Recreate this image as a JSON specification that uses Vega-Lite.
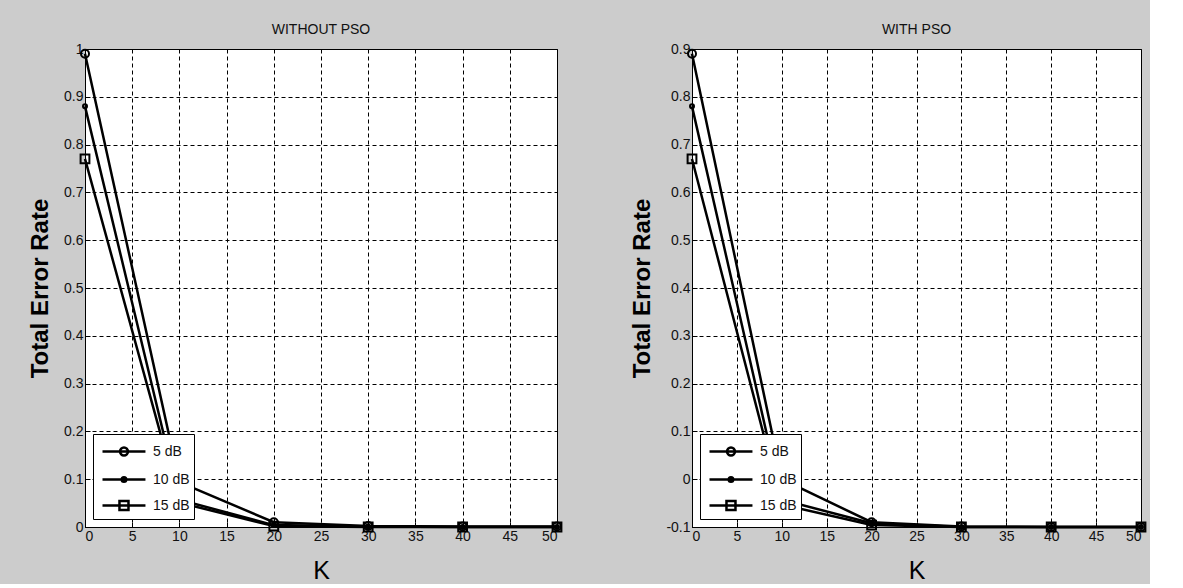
{
  "$schema": "https://vega.github.io/schema/vega-lite/v6.json",
  "background": "#cccccc",
  "padding": {"left": 28, "top": 22, "right": 0, "bottom": 0},
  "spacing": 135,
  "bounds": "flush",
  "config": {
    "view": {"fill": "white", "stroke": "black", "strokeWidth": 1},
    "axis": {
      "labelFont": "Liberation Sans, Arial",
      "labelFontSize": 14,
      "labelColor": "#111111",
      "titleFont": "Liberation Sans, Arial",
      "titleColor": "#000000",
      "domainColor": "#000000",
      "tickColor": "#000000",
      "tickSize": -5,
      "labelPadding": 7,
      "grid": true,
      "gridColor": "#000000",
      "gridDash": [4, 3],
      "gridWidth": 1,
      "gridOpacity": 1
    },
    "title": {
      "font": "Liberation Sans, Arial",
      "fontSize": 14,
      "fontWeight": "normal",
      "color": "#111111",
      "offset": 5
    },
    "legend": {
      "orient": "bottom-left",
      "offset": 8,
      "fillColor": "white",
      "strokeColor": "black",
      "strokeWidth": 1,
      "padding": 4,
      "symbolSize": 576,
      "symbolOffset": 4,
      "symbolStrokeWidth": 2.5,
      "symbolStrokeColor": "black",
      "symbolFillColor": "transparent",
      "labelFont": "Liberation Sans, Arial",
      "labelFontSize": 14,
      "labelColor": "#111111",
      "labelOffset": 25,
      "rowPadding": 5,
      "title": null
    }
  },
  "datasets": {
    "without": [
      {"K": 0, "series": "5 dB", "rate": 0.99},
      {"K": 10, "series": "5 dB", "rate": 0.094},
      {"K": 20, "series": "5 dB", "rate": 0.01},
      {"K": 30, "series": "5 dB", "rate": 0.002},
      {"K": 40, "series": "5 dB", "rate": 0.001},
      {"K": 50, "series": "5 dB", "rate": 0.001},
      {"K": 0, "series": "10 dB", "rate": 0.88},
      {"K": 10, "series": "10 dB", "rate": 0.057},
      {"K": 20, "series": "10 dB", "rate": 0.004},
      {"K": 30, "series": "10 dB", "rate": 0.001},
      {"K": 40, "series": "10 dB", "rate": 0.0},
      {"K": 50, "series": "10 dB", "rate": 0.0},
      {"K": 0, "series": "15 dB", "rate": 0.77},
      {"K": 10, "series": "15 dB", "rate": 0.051},
      {"K": 20, "series": "15 dB", "rate": 0.002},
      {"K": 30, "series": "15 dB", "rate": 0.0},
      {"K": 40, "series": "15 dB", "rate": 0.0},
      {"K": 50, "series": "15 dB", "rate": 0.0}
    ],
    "with": [
      {"K": 0, "series": "5 dB", "rate": 0.89},
      {"K": 10, "series": "5 dB", "rate": 0.0},
      {"K": 20, "series": "5 dB", "rate": -0.09},
      {"K": 30, "series": "5 dB", "rate": -0.099},
      {"K": 40, "series": "5 dB", "rate": -0.1},
      {"K": 50, "series": "5 dB", "rate": -0.1},
      {"K": 0, "series": "10 dB", "rate": 0.78},
      {"K": 10, "series": "10 dB", "rate": -0.043},
      {"K": 20, "series": "10 dB", "rate": -0.092},
      {"K": 30, "series": "10 dB", "rate": -0.1},
      {"K": 40, "series": "10 dB", "rate": -0.1},
      {"K": 50, "series": "10 dB", "rate": -0.1},
      {"K": 0, "series": "15 dB", "rate": 0.67},
      {"K": 10, "series": "15 dB", "rate": -0.053},
      {"K": 20, "series": "15 dB", "rate": -0.096},
      {"K": 30, "series": "15 dB", "rate": -0.1},
      {"K": 40, "series": "15 dB", "rate": -0.1},
      {"K": 50, "series": "15 dB", "rate": -0.1}
    ]
  },
  "hconcat": [
    {
      "title": "WITHOUT PSO",
      "width": 472,
      "height": 478,
      "data": {"name": "without"},
      "encoding": {
        "x": {"field": "K", "type": "quantitative", "scale": {"domain": [0, 50], "nice": false},
          "axis": {"values": [0, 5, 10, 15, 20, 25, 30, 35, 40, 45, 50], "title": "K", "titleFontSize": 25, "titleFontWeight": "normal", "titlePadding": 15}},
        "y": {"field": "rate", "type": "quantitative", "scale": {"domain": [0, 1], "nice": false, "zero": false},
          "axis": {"values": [0, 0.1, 0.2, 0.3, 0.4, 0.5, 0.6, 0.7, 0.8, 0.9, 1], "labelExpr": "replace(format(datum.value, '.1~f'), '\u2212', '-')", "title": "Total Error Rate", "titleFontSize": 24, "titleFontWeight": "bold", "titlePadding": 11}}
      },
      "layer": [
        {"mark": {"type": "line", "color": "black", "strokeWidth": 2.5}, "encoding": {"detail": {"field": "series"}}},
        {
          "mark": {"type": "point", "size": 64, "color": "black", "filled": false, "strokeWidth": 2, "opacity": 1},
          "encoding": {
            "shape": {"field": "series", "type": "nominal", "legend": null, "scale": {"domain": ["5 dB", "10 dB", "15 dB"], "range": ["M-1,0A1,1 0 1,0 1,0A1,1 0 1,0 -1,0Z", "M-0.5,0A0.5,0.5 0 1,0 0.5,0A0.5,0.5 0 1,0 -0.5,0Z", "M-1.1,-1.1H1.1V1.1H-1.1Z"]}}
          }
        },
        {
          "transform": [{"filter": "datum.K < 0"}],
          "mark": {"type": "point", "color": "black", "filled": false, "strokeWidth": 2.5, "opacity": 1},
          "encoding": {
            "shape": {"field": "series", "type": "nominal", "scale": {"domain": ["5 dB", "10 dB", "15 dB"], "range": ["M-1,0H2.58M0.46,0A0.33,0.33 0 1,0 1.12,0A0.33,0.33 0 1,0 0.46,0Z", "M-1,0H2.58M0.6,0A0.19,0.19 0 1,0 0.98,0A0.19,0.19 0 1,0 0.6,0Z", "M-1,0H2.58M0.415,-0.375H1.165V0.375H0.415Z"]},
              "legend": {"encode": {"symbols": {"update": {"stroke": {"value": "black"}, "fill": {"value": "transparent"}, "strokeWidth": {"value": 2.5}}}}}}
          }
        }
      ],
      "resolve": {"scale": {"shape": "independent"}}
    },
    {
      "title": "WITH PSO",
      "width": 449,
      "height": 478,
      "data": {"name": "with"},
      "encoding": {
        "x": {"field": "K", "type": "quantitative", "scale": {"domain": [0, 50], "nice": false},
          "axis": {"values": [0, 5, 10, 15, 20, 25, 30, 35, 40, 45, 50], "title": "K", "titleFontSize": 25, "titleFontWeight": "normal", "titlePadding": 15}},
        "y": {"field": "rate", "type": "quantitative", "scale": {"domain": [-0.1, 0.9], "nice": false, "zero": false},
          "axis": {"values": [-0.1, 0, 0.1, 0.2, 0.3, 0.4, 0.5, 0.6, 0.7, 0.8, 0.9], "labelExpr": "replace(format(datum.value, '.1~f'), '\u2212', '-')", "title": "Total Error Rate", "titleFontSize": 24, "titleFontWeight": "bold", "titlePadding": 11}}
      },
      "layer": [
        {"mark": {"type": "line", "color": "black", "strokeWidth": 2.5}, "encoding": {"detail": {"field": "series"}}},
        {
          "mark": {"type": "point", "size": 64, "color": "black", "filled": false, "strokeWidth": 2, "opacity": 1},
          "encoding": {
            "shape": {"field": "series", "type": "nominal", "legend": null, "scale": {"domain": ["5 dB", "10 dB", "15 dB"], "range": ["M-1,0A1,1 0 1,0 1,0A1,1 0 1,0 -1,0Z", "M-0.5,0A0.5,0.5 0 1,0 0.5,0A0.5,0.5 0 1,0 -0.5,0Z", "M-1.1,-1.1H1.1V1.1H-1.1Z"]}}
          }
        },
        {
          "transform": [{"filter": "datum.K < 0"}],
          "mark": {"type": "point", "color": "black", "filled": false, "strokeWidth": 2.5, "opacity": 1},
          "encoding": {
            "shape": {"field": "series", "type": "nominal", "scale": {"domain": ["5 dB", "10 dB", "15 dB"], "range": ["M-1,0H2.58M0.46,0A0.33,0.33 0 1,0 1.12,0A0.33,0.33 0 1,0 0.46,0Z", "M-1,0H2.58M0.6,0A0.19,0.19 0 1,0 0.98,0A0.19,0.19 0 1,0 0.6,0Z", "M-1,0H2.58M0.415,-0.375H1.165V0.375H0.415Z"]},
              "legend": {"encode": {"symbols": {"update": {"stroke": {"value": "black"}, "fill": {"value": "transparent"}, "strokeWidth": {"value": 2.5}}}}}}
          }
        }
      ],
      "resolve": {"scale": {"shape": "independent"}}
    }
  ],
  "resolve": {
    "scale": {"shape": "independent"},
    "legend": {"shape": "independent"}
  }
}
